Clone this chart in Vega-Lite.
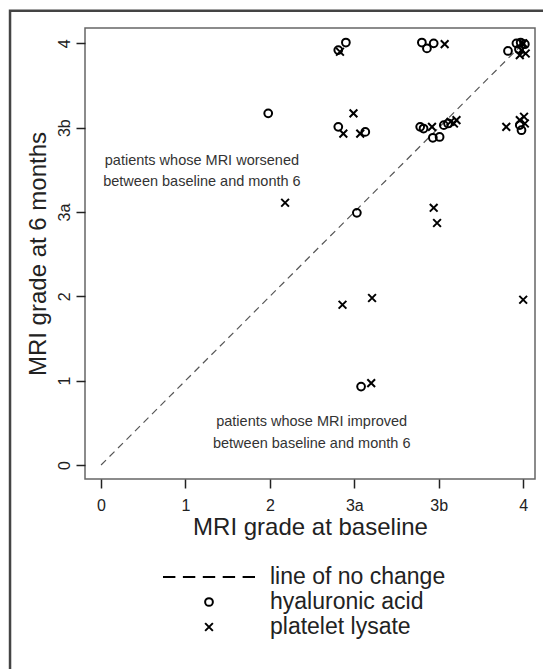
{
  "$schema": "https://vega.github.io/schema/vega-lite/v6.json",
  "width": 450,
  "height": 451,
  "autosize": "none",
  "padding": {"left": 85, "top": 28, "right": 8, "bottom": 190},
  "background": "white",
  "config": {
    "view": {"stroke": "#666", "strokeWidth": 1.5},
    "font": "Liberation Sans"
  },
  "datasets": {
    "points": [
      {"treatment": "hyaluronic acid", "baseline": 2.90, "month6": 5.01},
      {"treatment": "hyaluronic acid", "baseline": 2.81, "month6": 4.92},
      {"treatment": "hyaluronic acid", "baseline": 3.80, "month6": 5.01},
      {"treatment": "hyaluronic acid", "baseline": 3.86, "month6": 4.94},
      {"treatment": "hyaluronic acid", "baseline": 3.94, "month6": 5.00},
      {"treatment": "hyaluronic acid", "baseline": 4.82, "month6": 4.91},
      {"treatment": "hyaluronic acid", "baseline": 4.92, "month6": 5.00},
      {"treatment": "hyaluronic acid", "baseline": 4.97, "month6": 5.01},
      {"treatment": "hyaluronic acid", "baseline": 5.02, "month6": 4.99},
      {"treatment": "hyaluronic acid", "baseline": 4.95, "month6": 4.93},
      {"treatment": "hyaluronic acid", "baseline": 1.98, "month6": 4.17},
      {"treatment": "hyaluronic acid", "baseline": 2.81, "month6": 4.01},
      {"treatment": "hyaluronic acid", "baseline": 3.13, "month6": 3.95},
      {"treatment": "hyaluronic acid", "baseline": 3.78, "month6": 4.01},
      {"treatment": "hyaluronic acid", "baseline": 3.82, "month6": 3.99},
      {"treatment": "hyaluronic acid", "baseline": 3.93, "month6": 3.88},
      {"treatment": "hyaluronic acid", "baseline": 4.01, "month6": 3.89},
      {"treatment": "hyaluronic acid", "baseline": 4.06, "month6": 4.03},
      {"treatment": "hyaluronic acid", "baseline": 4.11, "month6": 4.05},
      {"treatment": "hyaluronic acid", "baseline": 4.98, "month6": 3.97},
      {"treatment": "hyaluronic acid", "baseline": 4.96, "month6": 4.03},
      {"treatment": "hyaluronic acid", "baseline": 3.03, "month6": 2.99},
      {"treatment": "hyaluronic acid", "baseline": 3.08, "month6": 0.93},
      {"treatment": "platelet lysate", "baseline": 2.83, "month6": 4.90},
      {"treatment": "platelet lysate", "baseline": 4.07, "month6": 4.99},
      {"treatment": "platelet lysate", "baseline": 4.98, "month6": 4.92},
      {"treatment": "platelet lysate", "baseline": 5.03, "month6": 4.88},
      {"treatment": "platelet lysate", "baseline": 5.00, "month6": 5.00},
      {"treatment": "platelet lysate", "baseline": 4.96, "month6": 4.86},
      {"treatment": "platelet lysate", "baseline": 2.99, "month6": 4.17},
      {"treatment": "platelet lysate", "baseline": 2.87, "month6": 3.93},
      {"treatment": "platelet lysate", "baseline": 3.07, "month6": 3.93},
      {"treatment": "platelet lysate", "baseline": 3.92, "month6": 4.01},
      {"treatment": "platelet lysate", "baseline": 4.18, "month6": 4.05},
      {"treatment": "platelet lysate", "baseline": 4.21, "month6": 4.09},
      {"treatment": "platelet lysate", "baseline": 4.14, "month6": 4.07},
      {"treatment": "platelet lysate", "baseline": 4.80, "month6": 4.01},
      {"treatment": "platelet lysate", "baseline": 4.96, "month6": 4.09},
      {"treatment": "platelet lysate", "baseline": 5.01, "month6": 4.13},
      {"treatment": "platelet lysate", "baseline": 5.02, "month6": 4.05},
      {"treatment": "platelet lysate", "baseline": 2.18, "month6": 3.11},
      {"treatment": "platelet lysate", "baseline": 3.94, "month6": 3.05},
      {"treatment": "platelet lysate", "baseline": 3.98, "month6": 2.87},
      {"treatment": "platelet lysate", "baseline": 2.86, "month6": 1.90},
      {"treatment": "platelet lysate", "baseline": 3.21, "month6": 1.98},
      {"treatment": "platelet lysate", "baseline": 5.00, "month6": 1.96},
      {"treatment": "platelet lysate", "baseline": 3.20, "month6": 0.97}
    ],
    "nochange": [
      {"baseline": 0, "month6": 0},
      {"baseline": 5, "month6": 5}
    ],
    "notes": [
      {"baseline": 1.195, "month6": 3.60, "note": "patients whose MRI worsened"},
      {"baseline": 1.195, "month6": 3.35, "note": "between baseline and month 6"},
      {"baseline": 2.495, "month6": 0.505, "note": "patients whose MRI improved"},
      {"baseline": 2.495, "month6": 0.25, "note": "between baseline and month 6"}
    ],
    "frame": [{"part": "frame"}]
  },
  "layer": [
    {
      "data": {"name": "frame"},
      "mark": {"type": "rect", "filled": false, "color": "#444", "strokeWidth": 2.5},
      "encoding": {
        "x": {"datum": -1.078, "type": "quantitative", "scale": {"domain": [-0.19, 5.14], "nice": false, "zero": false}},
        "x2": {"datum": 5.6},
        "y": {"datum": 5.386, "type": "quantitative", "scale": {"domain": [-0.166, 5.182], "nice": false, "zero": false}},
        "y2": {"datum": -3.0}
      }
    },
    {
      "data": {"name": "nochange"},
      "mark": {"type": "line", "color": "#555", "strokeWidth": 1.2, "strokeDash": [7, 5]},
      "encoding": {
        "x": {"field": "baseline", "type": "quantitative", "scale": {"domain": [-0.19, 5.14], "nice": false, "zero": false}},
        "y": {"field": "month6", "type": "quantitative", "scale": {"domain": [-0.166, 5.182], "nice": false, "zero": false}}
      }
    },
    {
      "data": {"name": "points"},
      "mark": {"type": "point", "filled": false, "color": "black", "strokeWidth": 2, "size": 60, "opacity": 1},
      "encoding": {
        "x": {
          "field": "baseline", "type": "quantitative",
          "scale": {"domain": [-0.19, 5.14], "nice": false, "zero": false},
          "axis": {
            "title": "MRI grade at baseline",
            "values": [0, 1, 2, 3, 4, 5],
            "labelExpr": "datum.value == 3 ? '3a' : datum.value == 4 ? '3b' : datum.value == 5 ? '4' : format(datum.value, 'd')",
            "domain": false, "grid": false,
            "tickSize": 9, "tickColor": "#222", "tickWidth": 1.5,
            "labelFont": "Liberation Sans", "labelFontSize": 16, "labelColor": "#222", "labelPadding": 9,
            "labelFlush": false, "labelOverlap": false,
            "titleFont": "Liberation Sans", "titleFontSize": 24, "titleFontWeight": "normal", "titleColor": "#222", "titlePadding": 2
          }
        },
        "y": {
          "field": "month6", "type": "quantitative",
          "scale": {"domain": [-0.166, 5.182], "nice": false, "zero": false},
          "axis": {
            "title": "MRI grade at 6 months",
            "values": [0, 1, 2, 3, 4, 5],
            "labelExpr": "datum.value == 3 ? '3a' : datum.value == 4 ? '3b' : datum.value == 5 ? '4' : format(datum.value, 'd')",
            "domain": false, "grid": false,
            "tickSize": 9, "tickColor": "#222", "tickWidth": 1.5,
            "labelFont": "Liberation Sans", "labelFontSize": 16, "labelColor": "#222", "labelPadding": 4,
            "labelAngle": 270, "labelAlign": "center", "labelBaseline": "bottom",
            "labelFlush": false, "labelOverlap": false,
            "titleFont": "Liberation Sans", "titleFontSize": 24, "titleFontWeight": "normal", "titleColor": "#222", "titlePadding": 6
          }
        },
        "shape": {
          "field": "treatment", "type": "nominal",
          "scale": {
            "domain": ["line of no change", "hyaluronic acid", "platelet lysate"],
            "range": [
              "M-11.88,0H-8.68M-6.74,0H-3.54M-1.6,0H1.6M3.54,0H6.74M8.68,0H11.88",
              "circle",
              "M-1,-1L1,1M1,-1L-1,1"
            ]
          },
          "legend": {
            "orient": "none", "legendX": 112.5, "legendY": 537.5,
            "title": null, "padding": 0,
            "labelFont": "Liberation Sans", "labelFontSize": 23, "labelColor": "#222",
            "labelOffset": 49.5, "labelLimit": 400, "rowPadding": 1,
            "symbolSize": 60, "symbolStrokeWidth": 2, "symbolStrokeColor": "black",
            "symbolFillColor": "transparent", "symbolOpacity": 1
          }
        }
      }
    },
    {
      "data": {"name": "notes"},
      "mark": {"type": "text", "fontSize": 14.5, "color": "#333", "font": "Liberation Sans", "align": "center", "baseline": "middle"},
      "encoding": {
        "x": {"field": "baseline", "type": "quantitative", "scale": {"domain": [-0.19, 5.14], "nice": false, "zero": false}},
        "y": {"field": "month6", "type": "quantitative", "scale": {"domain": [-0.166, 5.182], "nice": false, "zero": false}},
        "text": {"field": "note", "type": "nominal"}
      }
    }
  ]
}
